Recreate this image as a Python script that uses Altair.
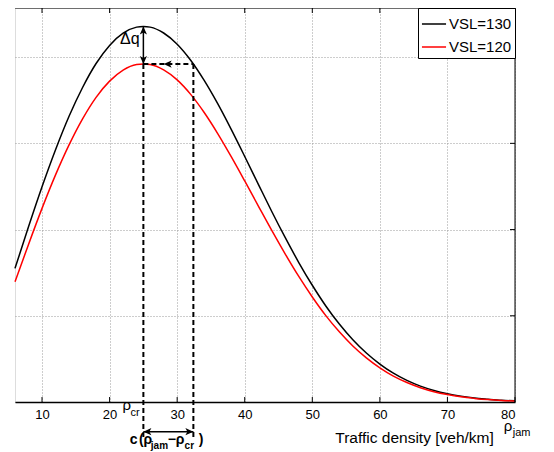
import altair as alt
import pandas as pd

# ---------------- data ----------------
density = [6, 8, 10, 12, 14, 16, 18, 20, 22, 24, 25, 26, 28, 30, 32, 34, 36, 38, 40,
           42, 44, 46, 48, 50, 52, 54, 56, 58, 60, 62, 64, 66, 68, 70, 72, 74, 76, 78, 80]
q_vsl130 = [775, 1016, 1248, 1463, 1657, 1824, 1963, 2068, 2139, 2174, 2178, 2174, 2140,
            2075, 1982, 1865, 1730, 1581, 1424, 1264, 1105, 953, 809, 677, 557, 452, 361,
            284, 220, 167, 125, 92, 67, 48, 34, 23, 16, 10, 7]
q_vsl120 = [697, 914, 1123, 1317, 1491, 1642, 1767, 1861, 1925, 1957, 1960, 1957, 1926,
            1868, 1784, 1679, 1557, 1423, 1282, 1138, 995, 858, 728, 609, 501, 407, 325,
            256, 198, 150, 113, 83, 60, 43, 30, 21, 14, 9, 6]
series_names = ["VSL=130", "VSL=120"]
series_colors = ["#000000", "#ff0000"]

x_ticks = [10, 20, 30, 40, 50, 60, 70, 80]
y_ticks = [0, 500, 1000, 1500, 2000]

rho_cr = 25
rho_shift = 32.4
q_peak130 = 2178
q_peak120 = 1960
q_arrow_low = -172
q_dash_low = -209

W, H = 500, 394
FONT = "Liberation Sans"

xs = alt.Scale(domain=[6, 80], nice=False, zero=False)
ys = alt.Scale(domain=[0, 2285], nice=False, zero=False)

x_axis = alt.Axis(values=x_ticks, grid=True, gridDash=[1, 2], gridColor="#9a9a9a",
                  domain=True, domainColor="black", domainWidth=1.5, ticks=False,
                  labelFontSize=13, labelColor="black", labelFont=FONT, labelPadding=6,
                  title=None, format="d")
y_axis = alt.Axis(values=y_ticks, grid=True, gridDash=[1, 2], gridColor="#9a9a9a",
                  domain=False, ticks=False, labels=False, title=None)


def X(f="x"):
    return alt.X(f + ":Q", scale=xs, axis=x_axis)


def Y(f="y"):
    return alt.Y(f + ":Q", scale=ys, axis=y_axis)


color_scale = alt.Scale(domain=series_names, range=series_colors)
legend = alt.Legend(title=None, orient="top-right", offset=0, strokeColor="black",
                    fillColor="white", padding=3, symbolType="stroke", symbolSize=580,
                    symbolStrokeWidth=1.5, labelFontSize=15, labelFont=FONT,
                    labelColor="black", rowPadding=2, labelOffset=2, cornerRadius=0)

n = len(density)
df130 = pd.DataFrame({"x": density, "y": q_vsl130, "series": [series_names[0]] * n})
df120 = pd.DataFrame({"x": density, "y": q_vsl120, "series": [series_names[1]] * n})

line130 = alt.Chart(df130).mark_line(strokeWidth=1.5, interpolate="monotone").encode(
    x=X(), y=Y(), color=alt.Color("series:N", scale=color_scale, legend=legend))
line120 = alt.Chart(df120).mark_line(strokeWidth=1.5, interpolate="monotone").encode(
    x=X(), y=Y(), color=alt.Color("series:N", scale=color_scale, legend=legend))

# dashed guide lines
dash_df = pd.DataFrame({
    "x": [rho_cr, rho_shift, rho_cr],
    "y": [q_peak120, q_peak120, q_peak120],
    "x2": [rho_cr, rho_shift, rho_shift],
    "y2": [q_dash_low, q_dash_low, q_peak120],
})
dashes = alt.Chart(dash_df).mark_rule(strokeDash=[5, 3], strokeWidth=2, color="black").encode(
    x=X(), y=Y(), x2="x2:Q", y2="y2:Q")

# solid arrow shafts
solid_df = pd.DataFrame({
    "x": [rho_cr, rho_cr],
    "y": [q_peak120, q_arrow_low],
    "x2": [rho_cr, rho_shift],
    "y2": [q_peak130, q_arrow_low],
})
solids = alt.Chart(solid_df).mark_rule(strokeWidth=1.5, color="black").encode(
    x=X(), y=Y(), x2="x2:Q", y2="y2:Q")

# arrow heads (tip at the point, path points right, rotated by angle)
ARROW = "M0,0L-2,-0.9L-1.5,0L-2,0.9Z"
head_df = pd.DataFrame({
    "x": [rho_cr, rho_cr, 28.0, rho_cr, rho_shift],
    "y": [q_peak130, q_peak120, q_peak120, q_arrow_low, q_arrow_low],
    "angle": [270, 90, 180, 180, 0],
})
heads = alt.Chart(head_df).mark_point(shape=ARROW, filled=True, size=64, color="black",
                                      opacity=1, strokeWidth=0).encode(
    x=X(), y=Y(), angle=alt.Angle("angle:Q", scale=None))

# frame (top and right) and inward ticks
one = pd.DataFrame({"a": [0]})
top_line = alt.Chart(one).mark_rule(color="black", strokeWidth=1).encode(
    x=alt.value(0), x2=alt.value(W), y=alt.value(0))
right_line = alt.Chart(one).mark_rule(color="black", strokeWidth=1).encode(
    x=alt.value(W), y=alt.value(0), y2=alt.value(H))
xt = pd.DataFrame({"x": x_ticks})
yt = pd.DataFrame({"y": y_ticks[1:]})
ticks_bottom = alt.Chart(xt).mark_rule(color="black").encode(
    x=X(), y=alt.value(H), y2=alt.value(H - 5))
ticks_top = alt.Chart(xt).mark_rule(color="black").encode(
    x=X(), y=alt.value(0), y2=alt.value(5))
ticks_right = alt.Chart(yt).mark_rule(color="black").encode(
    y=Y(), x=alt.value(W), x2=alt.value(W - 5))


def texts(rows, size, bold=False, align="left", baseline="alphabetic"):
    d = pd.DataFrame(rows, columns=["x", "y", "t"])
    return alt.Chart(d).mark_text(fontSize=size, font=FONT, color="black",
                                  fontWeight="bold" if bold else "normal",
                                  align=align, baseline=baseline).encode(
        x=X(), y=Y(), text="t:N")


t_dq = texts([(23.0, 2105, "Δq")], 16, align="center", baseline="middle")
t_rho_big = texts([(21.9, -46, "ρ"), (78.34, -168, "ρ")], 15)
t_rho_sub = texts([(23.08, -81, "cr"), (79.67, -200, "jam")], 11)
t_title = texts([(76.86, -238, "Traffic density [veh/km]")], 15.5, align="right")
t_c_big = texts([(22.98, -241, "c"), (24.34, -241, "("), (25.0, -241, "ρ"),
                 (28.6, -241, "−"), (29.8, -241, "ρ"), (33.2, -241, ")")], 14, bold=True)
t_c_sub = texts([(26.1, -273, "jam"), (31.1, -273, "cr")], 10, bold=True)

chart = alt.layer(
    line130, line120, dashes, solids, heads,
    top_line, right_line, ticks_bottom, ticks_top, ticks_right,
    t_dq, t_rho_big, t_rho_sub, t_title, t_c_big, t_c_sub,
).properties(
    width=W, height=H, autosize="none",
    padding={"left": 7, "top": 0, "right": 31, "bottom": 50},
).configure_view(stroke=None).configure(font=FONT)

chart.save("out.html", embed_options={"renderer": "svg", "actions": False})
